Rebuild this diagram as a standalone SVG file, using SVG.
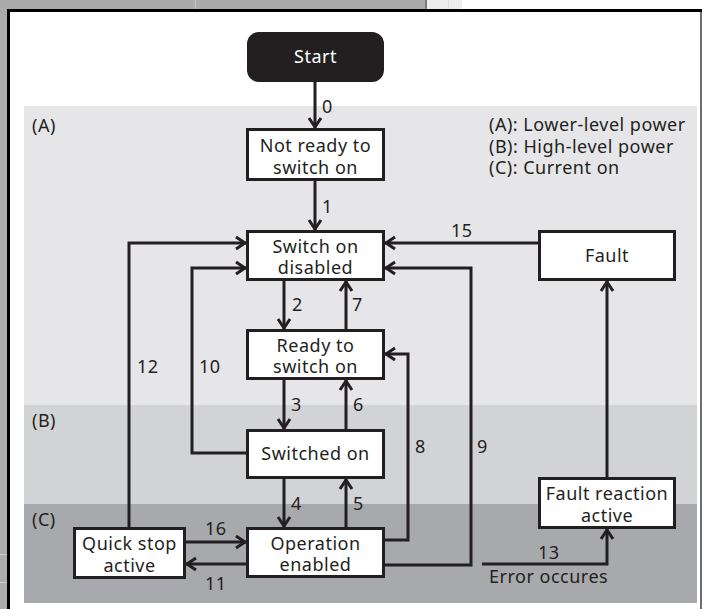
<svg xmlns="http://www.w3.org/2000/svg" width="702" height="609" viewBox="0 0 702 609">
<style>
text{font-family:"Noto Sans","Open Sans","DejaVu Sans",sans-serif;font-size:18px;letter-spacing:0.5px;fill:#231f20}
.c{text-anchor:middle}
.box{fill:#fff;stroke:#231f20;stroke-width:3}
.ln{fill:none;stroke:#231f20;stroke-width:3}
.arr{marker-end:url(#ah)}
</style>
<defs>
<marker id="ah" markerUnits="userSpaceOnUse" viewBox="-12 -8 14 16" refX="0" refY="0" markerWidth="14" markerHeight="16" orient="auto" overflow="visible">
<path d="M-10,-6 L-1,0 L-10,6" fill="none" stroke="#231f20" stroke-width="3"/>
</marker>
</defs>
<g id="chrome">
<rect x="0" y="0" width="702" height="609" fill="#fff"/>
<rect x="0" y="0" width="426" height="9" fill="#ababab"/>
<rect x="195" y="0" width="1" height="9" fill="#c4c4c4"/>
<rect x="425" y="0" width="2" height="9" fill="#7a7a7a"/>
<rect x="427" y="0" width="35" height="9" fill="#ededed"/>
<rect x="448" y="0" width="1" height="9" fill="#dcdcdc"/>
<rect x="0" y="0" width="7" height="609" fill="#ababab"/>
<rect x="0" y="554" width="7" height="1" fill="#d0d0d0"/>
<rect x="0" y="582" width="7" height="1" fill="#d0d0d0"/>
<rect x="7" y="9" width="695" height="3" fill="#000"/>
<rect x="7" y="9" width="3" height="600" fill="#000"/>
<rect x="700" y="12" width="2" height="597" fill="#6e6e6e"/>
</g>
<g id="regions">
<rect x="24" y="106" width="673" height="299" fill="#e6e6e8"/>
<rect x="24" y="405" width="673" height="99" fill="#d2d3d5"/>
<rect x="24" y="504" width="673" height="99" fill="#a8a9ac"/>
<text x="32" y="132">(A)</text>
<text x="32" y="427">(B)</text>
<text x="32" y="526">(C)</text>
</g>
<g id="legend">
<text x="489" y="131">(A): Lower-level power</text>
<text x="489" y="153">(B): High-level power</text>
<text x="489" y="174">(C): Current on</text>
</g>
<g id="connectors">
<path class="ln arr" d="M315,82 V128"/>
<path class="ln arr" d="M315,181 V230"/>
<path class="ln arr" d="M284,281 V329"/>
<path class="ln arr" d="M346,329 V281"/>
<path class="ln arr" d="M284,379 V429"/>
<path class="ln arr" d="M346,429 V380"/>
<path class="ln arr" d="M284,479 V527"/>
<path class="ln arr" d="M346,527 V479"/>
<path class="ln arr" d="M246,453 H192 V268 H246"/>
<path class="ln arr" d="M129,527 V243 H246"/>
<path class="ln arr" d="M186,542 H246"/>
<path class="ln arr" d="M246,564 H186"/>
<path class="ln arr" d="M385,540 H408 V354 H385"/>
<path class="ln arr" d="M385,565 H471 V268 H385"/>
<path class="ln arr" d="M538,243 H385"/>
<path class="ln arr" d="M482,564 H607 V529"/>
<path class="ln arr" d="M607,477 V281"/>
<text x="322" y="113">0</text>
<text x="322" y="213">1</text>
<text x="292" y="311">2</text>
<text x="352" y="311">7</text>
<text x="291" y="411">3</text>
<text x="353" y="411">6</text>
<text x="291" y="510">4</text>
<text x="353" y="510">5</text>
<text x="137" y="373">12</text>
<text x="199" y="373">10</text>
<text x="415" y="453">8</text>
<text x="477" y="453">9</text>
<text x="451" y="237">15</text>
<text x="205" y="535">16</text>
<text x="205" y="590">11</text>
<text x="538" y="559">13</text>
<text x="489" y="583">Error occures</text>
</g>
<g id="start">
<rect x="247" y="32" width="137" height="50" rx="12" fill="#231f20"/>
<text class="c" x="315.5" y="63" style="fill:#fff">Start</text>
</g>
<g id="not-ready">
<rect class="box" x="247.5" y="129.5" width="136" height="50"/>
<text class="c" x="315.5" y="152">Not ready to</text>
<text class="c" x="315.5" y="174">switch on</text>
</g>
<g id="switch-on-disabled">
<rect class="box" x="247.5" y="231.5" width="136" height="48"/>
<text class="c" x="315.5" y="253">Switch on</text>
<text class="c" x="315.5" y="274">disabled</text>
</g>
<g id="ready">
<rect class="box" x="247.5" y="330.5" width="136" height="48"/>
<text class="c" x="315.5" y="352">Ready to</text>
<text class="c" x="315.5" y="373">switch on</text>
</g>
<g id="switched-on">
<rect class="box" x="247.5" y="430.5" width="136" height="47"/>
<text class="c" x="315.5" y="460">Switched on</text>
</g>
<g id="operation-enabled">
<rect class="box" x="247.5" y="528.5" width="136" height="48"/>
<text class="c" x="315.5" y="550">Operation</text>
<text class="c" x="315.5" y="571">enabled</text>
</g>
<g id="quick-stop">
<rect class="box" x="74.5" y="528.5" width="110" height="49"/>
<text class="c" x="129.5" y="550">Quick stop</text>
<text class="c" x="129.5" y="572">active</text>
</g>
<g id="fault">
<rect class="box" x="539.5" y="231.5" width="135" height="48"/>
<text class="c" x="607" y="262">Fault</text>
</g>
<g id="fault-reaction">
<rect class="box" x="539.5" y="478.5" width="135" height="49"/>
<text class="c" x="607" y="500">Fault reaction</text>
<text class="c" x="607" y="522">active</text>
</g>
</svg>
